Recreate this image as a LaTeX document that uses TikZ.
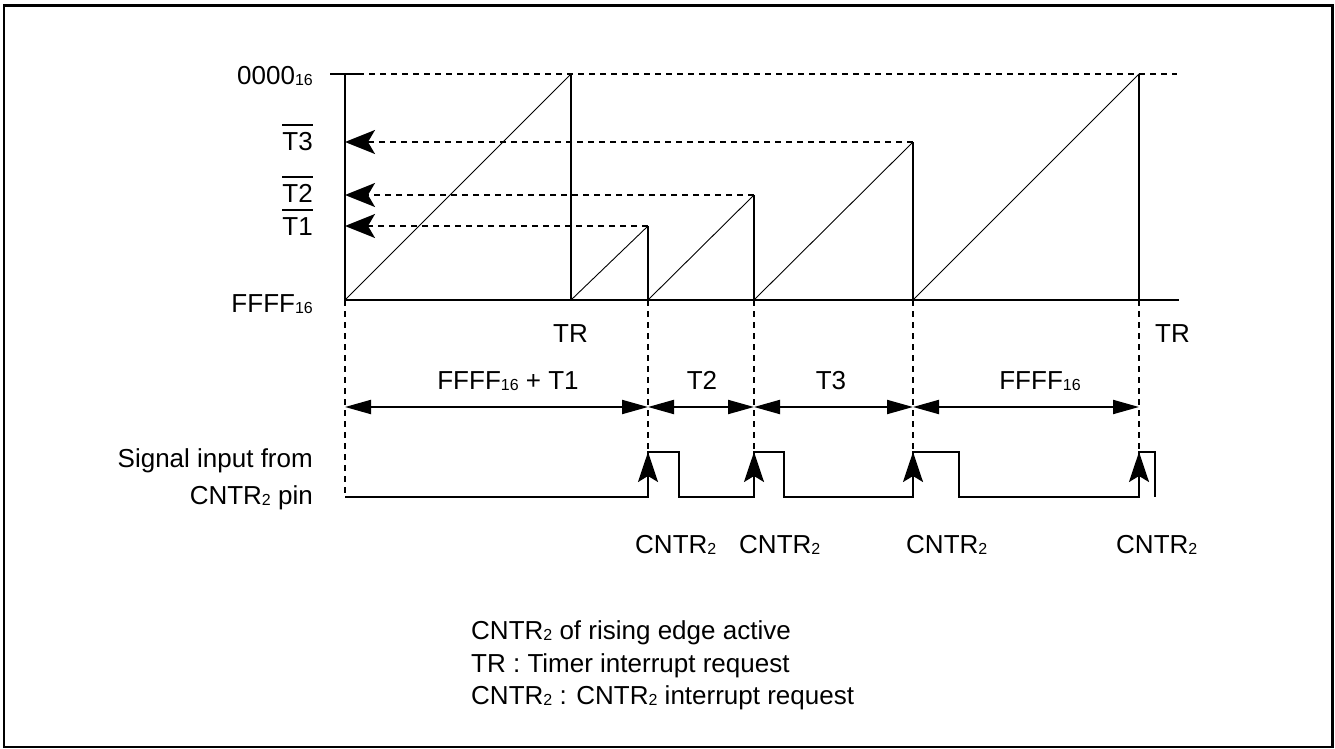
\documentclass[tikz,border=0pt]{standalone}
\usepackage{fontspec}
\setmainfont{Liberation Sans}
\usetikzlibrary{arrows.meta}

\newcommand{\sub}[1]{{\fontsize{16}{16}\selectfont\raisebox{-1pt}{#1}}}
\newcommand{\ovbar}[1]{\vbox{\hrule height 1.8pt\kern 6pt\hbox{#1}}}

\begin{document}
\begin{tikzpicture}[x=1pt,y=1pt,yscale=-1,xscale=1,
  every node/.style={font=\fontsize{26}{31}\selectfont, inner sep=0pt},
  heavy/.style={line width=2.2pt},
  ramp/.style={line width=0.9pt},
  guide/.style={line width=1.8pt, dash pattern=on 6pt off 5pt},
  levelarrow/.style={guide, -{Stealth[length=30pt,width=24pt,inset=7pt]}},
  edgearrow/.style={heavy, -{Stealth[length=30pt,width=20pt,inset=6pt]}},
  dimline/.style={line width=2pt, {Triangle[length=26pt,width=14pt]}-{Triangle[length=26pt,width=14pt]}}]
\useasboundingbox (0,0) rectangle (1335,749);

%Shape: Frame
    \draw [line width=2.8pt] (4,5.3) rectangle (1332.3,747);

% Coordinates of the count diagram
    \coordinate (origin) at (345,300);
    \coordinate (ytop) at (345,74);
    \coordinate (xend) at (1179,300);
    \coordinate (peakA) at (571,74);   \coordinate (baseA) at (571,300);
    \coordinate (peakB) at (648,226);  \coordinate (baseB) at (648,300);
    \coordinate (peakC) at (754,195);  \coordinate (baseC) at (754,300);
    \coordinate (peakD) at (913,142);  \coordinate (baseD) at (913,300);
    \coordinate (peakE) at (1139,74);  \coordinate (baseE) at (1139,300);
    \coordinate (levT1) at (345,226);
    \coordinate (levT2) at (345,195);
    \coordinate (levT3) at (345,142);

%Straight Lines: axes
    \draw [heavy] (ytop) -- (origin) -- (xend);
    \draw [heavy] (330,74) -- (358,74);
    \draw [guide] (358,74) -- (1177,74);

%Straight Lines: ramps
    \draw [ramp] (origin) -- (peakA);
    \draw [ramp] (baseA) -- (peakB);
    \draw [ramp] (baseB) -- (peakC);
    \draw [ramp] (baseC) -- (peakD);
    \draw [ramp] (baseD) -- (peakE);

%Straight Lines: reloads
    \draw [heavy] (peakA) -- (baseA);
    \draw [heavy] (peakB) -- (baseB);
    \draw [heavy] (peakC) -- (baseC);
    \draw [heavy] (peakD) -- (baseD);
    \draw [heavy] (peakE) -- (baseE);

%Straight Lines: levels
    \draw [levelarrow] (peakD) -- (levT3);
    \draw [levelarrow] (peakC) -- (levT2);
    \draw [levelarrow] (peakB) -- (levT1);

% Coordinates of the signal
    \coordinate (sigstart) at (345,497);
    \coordinate (riseB) at (648,497);  \coordinate (highB) at (648,452);
    \coordinate (riseC) at (754,497);  \coordinate (highC) at (754,452);
    \coordinate (riseD) at (913,497);  \coordinate (highD) at (913,452);
    \coordinate (riseE) at (1139,497); \coordinate (highE) at (1139,452);
    \coordinate (dimA) at (345,407);
    \coordinate (dimB) at (648,407);
    \coordinate (dimC) at (754,407);
    \coordinate (dimD) at (913,407);
    \coordinate (dimE) at (1139,407);

%Straight Lines: drop lines
    \draw [guide] (origin) -- (sigstart);
    \draw [guide] (baseB) -- (highB);
    \draw [guide] (baseC) -- (highC);
    \draw [guide] (baseD) -- (highD);
    \draw [guide] (baseE) -- (highE);

%Straight Lines: intervals
    \draw [dimline] (dimA) -- (dimB);
    \draw [dimline] (dimB) -- (dimC);
    \draw [dimline] (dimC) -- (dimD);
    \draw [dimline] (dimD) -- (dimE);

%Straight Lines: CNTR2 signal
    \draw [heavy] (sigstart) -- (riseB) -- (highB) -- (679,452) -- (679,497) -- (riseC) -- (highC) -- (784,452) -- (784,497) -- (riseD) -- (highD) -- (959,452) -- (959,497) -- (riseE) -- (highE) -- (1155,452) -- (1155,497);
    \draw [edgearrow] (riseB) -- (highB);
    \draw [edgearrow] (riseC) -- (highC);
    \draw [edgearrow] (riseD) -- (highD);
    \draw [edgearrow] (riseE) -- (highE);

% Text Node
    \node [anchor=base east] (valtop) at (313,85) {0000\sub{16}};
    \node [anchor=base east] (valT3) at (313,150) {\ovbar{T3}};
    \node [anchor=base east] (valT2) at (313,202) {\ovbar{T2}};
    \node [anchor=base east] (valT1) at (313,235) {\ovbar{T1}};
    \node [anchor=base east] (valbot) at (313,312) {FFFF\sub{16}};
% Text Node
    \node [anchor=base west] (trA) at (553,342) {TR};
    \node [anchor=base west] (trE) at (1155,342) {TR};
% Text Node
    \node [anchor=base] (lenA) at (508,389) {FFFF\sub{16} + T1};
    \node [anchor=base] (lenB) at (702,389) {T2};
    \node [anchor=base] (lenC) at (831,389) {T3};
    \node [anchor=base] (lenD) at (1040,389) {FFFF\sub{16}};
% Text Node
    \node [anchor=base east] (siglbl) at (313,467) {Signal input from};
    \node [anchor=base east] (pinlbl) at (313,504) {CNTR\sub{2} pin};
% Text Node
    \node [anchor=base west] (irqB) at (635,553) {CNTR\sub{2}};
    \node [anchor=base west] (irqC) at (739,553) {CNTR\sub{2}};
    \node [anchor=base west] (irqD) at (906,553) {CNTR\sub{2}};
    \node [anchor=base west] (irqE) at (1116,553) {CNTR\sub{2}};
% Text Node
    \node [anchor=base west] (noteA) at (471,639) {CNTR\sub{2} of rising edge active};
    \node [anchor=base west] (noteB) at (471,672) {TR : Timer interrupt request};
    \node [anchor=base west] (noteC) at (471,704) {CNTR\sub{2} : CNTR\sub{2} interrupt request};

\end{tikzpicture}
\end{document}
